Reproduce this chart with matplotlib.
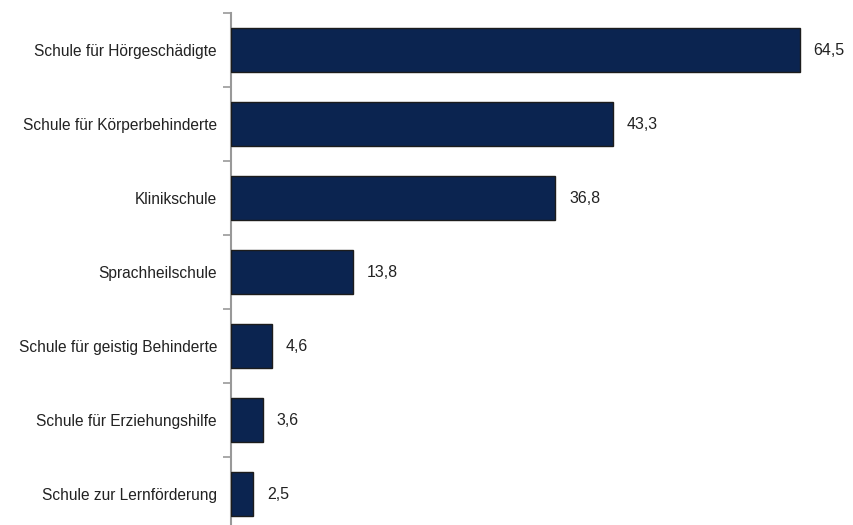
import matplotlib
matplotlib.use("Agg")
import matplotlib.pyplot as plt
from matplotlib import font_manager

categories = [
    "Schule für Hörgeschädigte",
    "Schule für Körperbehinderte",
    "Klinikschule",
    "Sprachheilschule",
    "Schule für geistig Behinderte",
    "Schule für Erziehungshilfe",
    "Schule zur Lernförderung",
]
values = [64.5, 43.3, 36.8, 13.8, 4.6, 3.6, 2.5]
value_labels = ["64,5", "43,3", "36,8", "13,8", "4,6", "3,6", "2,5"]

names = {f.name for f in font_manager.fontManager.ttflist}
fam = ["Liberation Sans Narrow", "DejaVu Sans"] if "Liberation Sans Narrow" in names else ["Liberation Sans", "DejaVu Sans"]
plt.rcParams["font.family"] = fam

fig = plt.figure(figsize=(8.54, 5.25), dpi=100)
ax = fig.add_axes([231/854, (525-531)/525, (848-231)/854, 518/525])

y = list(range(len(categories)))
ax.barh(y, values, height=0.6, color="#0b2450", edgecolor="#1c1c1c", linewidth=1.0, zorder=3)
for yi, v, lab in zip(y, values, value_labels):
    ax.text(v + 1.6, yi, lab, va="center", ha="left", fontsize=11.5, color="#222222")

ax.set_ylim(len(categories) - 0.5, -0.5)
ax.set_xlim(0, 70)
ax.set_yticks(y)
ax.set_yticklabels(categories, fontsize=11.2, color="#222222")
ax.tick_params(axis="y", which="major", length=0, pad=10)
ax.set_yticks([i - 0.5 for i in range(len(categories) + 1)], minor=True)
ax.tick_params(axis="y", which="minor", length=6, width=1.2, color="#999999")
ax.set_xticks([])
for s in ["top", "right", "bottom"]:
    ax.spines[s].set_visible(False)
ax.spines["left"].set_color("#999999")
ax.spines["left"].set_linewidth(1.5)

fig.savefig("out.png", dpi=100)
